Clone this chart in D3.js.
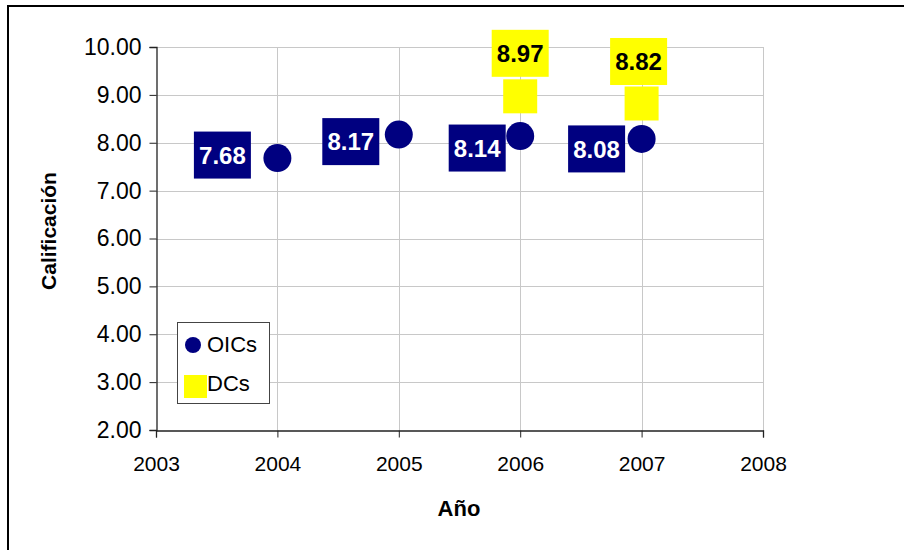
<!DOCTYPE html>
<html>
<head>
<meta charset="utf-8">
<script src="https://cdn.jsdelivr.net/npm/d3@7"></script>
<style>
  body { margin: 0; background: #fff; }
  svg { font-family: "Liberation Sans", Arial, sans-serif; }
</style>
</head>
<body>
<svg width="904" height="550"></svg>
<script>
// data
var years = [2004, 2005, 2006, 2007];
var oicValues = [7.68, 8.17, 8.14, 8.08];
var dcYears = [2006, 2007];
var dcValues = [8.97, 8.82];
var xTicks = [2003, 2004, 2005, 2006, 2007, 2008];
var yTicks = [2, 3, 4, 5, 6, 7, 8, 9, 10];

// label box nudges (layout only), relative to the point
var oicLabelShift = [[-55, -3], [-48, 7], [-43, 12], [-45, 10]];
var dcLabelShift = [[0, -43], [-3, -42]];

var svg = d3.select("svg");

// outer frame
svg.append("rect")
    .attr("x", 8).attr("y", 6)
    .attr("width", 920).attr("height", 580)
    .attr("fill", "none")
    .attr("stroke", "#000")
    .attr("stroke-width", 2);

var x = d3.scaleLinear().domain([2003, 2008]).range([156, 763]),
    y = d3.scaleLinear().domain([2, 10]).range([430, 47]);

// grid lines
var grid = svg.append("g").attr("stroke", "#c8c8c8").attr("stroke-width", 1);
grid.selectAll(".h").data(yTicks.slice(1)).enter().append("line")
    .attr("x1", x(2003)).attr("x2", x(2008))
    .attr("y1", function(d) { return Math.round(y(d)) + 0.5; })
    .attr("y2", function(d) { return Math.round(y(d)) + 0.5; });
grid.selectAll(".v").data(xTicks.slice(1)).enter().append("line")
    .attr("y1", y(10)).attr("y2", y(2))
    .attr("x1", function(d) { return Math.round(x(d)) + 0.5; })
    .attr("x2", function(d) { return Math.round(x(d)) + 0.5; });

// axes
var yAxis = svg.append("g")
    .attr("transform", "translate(" + (Math.round(x(2003)) + 0.5) + ",0)")
    .call(d3.axisLeft(y).tickValues(yTicks).tickFormat(d3.format(".2f")).tickSize(7).tickPadding(8));
var xAxis = svg.append("g")
    .attr("transform", "translate(0," + (Math.round(y(2)) + 0.5) + ")")
    .call(d3.axisBottom(x).tickValues(xTicks).tickFormat(d3.format("d")).tickSize(7).tickPadding(19));

[xAxis, yAxis].forEach(function(a) {
  a.select(".domain").attr("stroke", "#222").attr("stroke-width", 1.3);
  a.selectAll(".tick line").attr("stroke", "#222");
  a.selectAll("text").attr("fill", "#000").style("font-family", "'Liberation Sans', Arial, sans-serif");
});
yAxis.selectAll("text").style("font-size", "23px");
xAxis.selectAll("text").style("font-size", "21px");

// axis titles
svg.append("text")
    .attr("x", 459).attr("y", 516)
    .attr("text-anchor", "middle")
    .style("font-size", "22px").style("font-weight", "bold")
    .text("Año");
svg.append("text")
    .attr("transform", "translate(56,231) rotate(-90)")
    .attr("text-anchor", "middle")
    .style("font-size", "21px").style("font-weight", "bold")
    .text("Calificación");

// OICs series
var navy = "#000080", yellow = "#ffff00";
svg.selectAll(".oic").data(years).enter().append("circle")
    .attr("class", "oic")
    .attr("cx", function(d) { return x(d); })
    .attr("cy", function(d, i) { return y(oicValues[i]); })
    .attr("r", 14)
    .attr("fill", navy);

// DCs series
var sq = 34;
svg.selectAll(".dc").data(dcYears).enter().append("rect")
    .attr("class", "dc")
    .attr("x", function(d) { return x(d) - sq / 2; })
    .attr("y", function(d, i) { return y(dcValues[i]) - sq / 2; })
    .attr("width", sq).attr("height", sq)
    .attr("fill", yellow);

// data labels
var bw = 57, bh = 47;
function addLabel(cx, cy, value, bg, fg) {
  var g = svg.append("g").attr("transform", "translate(" + cx + "," + cy + ")");
  g.append("rect")
      .attr("x", -bw / 2).attr("y", -bh / 2)
      .attr("width", bw).attr("height", bh)
      .attr("fill", bg);
  g.append("text")
      .attr("text-anchor", "middle")
      .attr("dy", "0.36em")
      .attr("fill", fg)
      .style("font-size", "24px").style("font-weight", "bold")
      .text(d3.format(".2f")(value));
}
years.forEach(function(d, i) {
  addLabel(x(d) + oicLabelShift[i][0], y(oicValues[i]) + oicLabelShift[i][1], oicValues[i], navy, "#fff");
});
dcYears.forEach(function(d, i) {
  addLabel(x(d) + dcLabelShift[i][0], y(dcValues[i]) + dcLabelShift[i][1], dcValues[i], yellow, "#000");
});

// legend
var leg = svg.append("g");
leg.append("rect")
    .attr("x", 177.5).attr("y", 322.5)
    .attr("width", 92).attr("height", 81)
    .attr("fill", "#fff").attr("stroke", "#444");
leg.append("circle").attr("cx", 193).attr("cy", 345).attr("r", 8).attr("fill", navy);
leg.append("text").attr("x", 207).attr("y", 352)
    .style("font-size", "22px").text("OICs");
leg.append("rect").attr("x", 184).attr("y", 375).attr("width", 23).attr("height", 23).attr("fill", yellow);
leg.append("text").attr("x", 207).attr("y", 391)
    .style("font-size", "22px").text("DCs");
</script>
</body>
</html>
